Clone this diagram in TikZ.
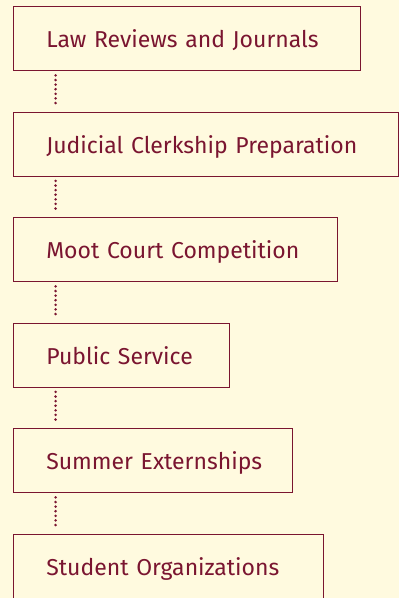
\documentclass[tikz,border=0pt]{standalone}
\usepackage{fontspec}
\setmainfont{Fira Sans}
\definecolor{bg}{HTML}{FFFADF}
\definecolor{maroon}{HTML}{7A1530}
\begin{document}
\begin{tikzpicture}[x=1pt,y=-1pt,
  stepbox/.style={draw=maroon, line width=1.4pt, fill=bg, anchor=north west,
    minimum height=64pt, inner xsep=33pt, align=left, text=maroon,
    text height=20pt, text depth=2pt,
    font=\fontsize{23}{26}\selectfont},
  link/.style={draw=maroon, line width=2.8pt, dash pattern=on 0pt off 4.6pt, line cap=round}]
\fill[bg] (0,0) rectangle (399,598);
\useasboundingbox (0,0) rectangle (399,598);
\node[stepbox, text width=281pt] (b1) at (12.6,6) {\mbox{Law Reviews and Journals}};
\node[stepbox, text width=319pt] (b2) at (12.6,111.5) {\mbox{Judicial Clerkship Preparation}};
\node[stepbox, text width=258pt] (b3) at (12.6,217) {\mbox{Moot Court Competition}};
\node[stepbox, text width=150pt] (b4) at (12.6,322.5) {\mbox{Public Service}};
\node[stepbox, text width=213pt] (b5) at (12.6,428) {\mbox{Summer Externships}};
\node[stepbox, text width=244pt] (b6) at (12.6,533.5) {\mbox{Student Organizations}};
\foreach \a/\b in {b1/b2,b2/b3,b3/b4,b4/b5,b5/b6}{
  \draw[link] ([xshift=43pt,yshift=-4pt]\a.south west) -- ([xshift=43pt,yshift=4pt]\b.north west);
}
\end{tikzpicture}
\end{document}
